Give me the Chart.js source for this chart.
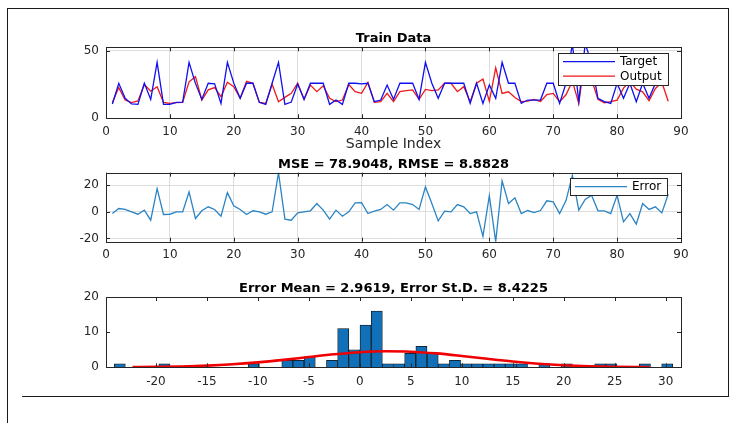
<!DOCTYPE html>
<html>
<head>
<meta charset="utf-8">
<script src="https://cdn.jsdelivr.net/npm/chart.js@4.4.1/dist/chart.umd.min.js"></script>
<style>
  body { margin: 0; background: #fff; }
  #wrap { position: relative; width: 738px; height: 423px; overflow: hidden; background: #fff; }
  canvas { position: absolute; left: 0; }
  .ln { position: absolute; background: #1a1a1a; }
</style>
</head>
<body>
<div id="wrap">
  <div class="ln" style="left:7px;top:8px;width:1px;height:415px"></div>
  <div class="ln" style="left:7px;top:8px;width:722px;height:1px"></div>
  <div class="ln" style="left:728px;top:8px;width:1px;height:389px"></div>
  <div class="ln" style="left:22px;top:396px;width:707px;height:1px"></div>
  <canvas id="trainChart" width="738" height="130" style="top:25px"></canvas>
  <canvas id="errChart" width="738" height="110" style="top:155px"></canvas>
  <canvas id="histChart" width="738" height="115" style="top:278px"></canvas>
</div>
<script>
// tick labels
const sampleTicks = [0, 10, 20, 30, 40, 50, 60, 70, 80, 90]
const trainYTicks = [0, 50]
const errYTicks = [-20, 0, 20]
const histXTicks = [-20, -15, -10, -5, 0, 5, 10, 15, 20, 25, 30]
const histYTicks = [0, 10, 20]

// sample 1..88
const target = [10.6, 25.9, 14.8, 10.6, 10.3, 25.9, 14, 41.4, 10.3, 10.3,
    11.8, 12, 41.4, 25.8, 14, 25.9, 25.5, 11, 41.4, 26,
    14.8, 25.9, 25.9, 11.8, 10.3, 25.9, 41.4, 10.3, 12, 25.4,
    14, 25.9, 25.9, 25.9, 10.3, 13.5, 10.3, 25.9, 25.9, 25.4,
    25.9, 12.3, 13.5, 24.6, 14, 25.9, 25.9, 25.9, 14, 41.4,
    25.9, 14.8, 25.9, 25.9, 25.9, 25.9, 11, 25.9, 11, 24.6,
    14.8, 41.4, 25.9, 25.9, 11, 13.5, 13.5, 13.5, 25.9, 25.9,
    11, 25.9, 55, 12.3, 55, 41.4, 14.8, 12.3, 11, 25.9,
    14.8, 25.9, 12.3, 25.9, 14.8, 25.9, 25.9, 25.9]

const output = [11.6, 22.7, 13.5, 11.6, 12.8, 25, 20, 23.4, 11.8, 11,
    11.6, 11.8, 27, 30.8, 13.5, 21, 22.7, 16, 26.6, 23.4,
    14.8, 27.3, 25.9, 11.8, 11, 25.2, 12.3, 15.5, 18.5, 25.9,
    14, 24.6, 19.7, 24.1, 14.8, 12.3, 13.5, 25, 19.7, 18.5,
    26.6, 11.8, 12.3, 18.5, 12.3, 19.7, 20.4, 21, 14, 21.4,
    20.4, 21, 25.9, 25.9, 19.7, 23.4, 12.3, 25.9, 29, 12.6,
    37.3, 18.4, 19.6, 15.4, 12.3, 12.7, 14, 12.5, 17.6, 18.4,
    12.3, 17.4, 27.5, 11, 45.7, 28.9, 14, 11.5, 12.3, 13.4,
    22.3, 27.2, 21.6, 19.6, 13, 22.1, 26.7, 12.6]

const errors = [-1.3, 2.5, 1.8, 0, -1.8, 1.3, -6.3, 17.5, -2, -1.8,
    0, 0, 15, -5, 0.8, 3.8, 1.8, -3.3, 14.5, 4.5,
    1.8, -2, 0.8, 0, -1.8, 0, 29.5, -5.5, -6.3, -0.8,
    0, 0.8, 6.3, 1.3, -5.5, 1.3, -3.3, 0, 6.8, 7,
    -1.3, 0.5, 1.8, 5.5, 1.3, 6.8, 6.8, 5.5, 1.8, 18.8,
    6.3, -6.8, 0.5, 0, 5.5, 3.8, -1.3, 0, -18.5, 12.2,
    -22.5, 23.3, 6.3, 10.6, -1.3, 1, -0.6, 1, 8.3, 7.5,
    -1.3, 8.5, 27.5, 1.3, 9.3, 12.5, 0.8, 0.8, -1.3, 12.5,
    -7.5, -1.3, -9.3, 6.3, 1.8, 3.8, -0.8, 13.3]

// histogram of errors
const binCenters = [-23.55, -22.46, -21.36, -20.26, -19.17, -18.07, -16.98, -15.88, -14.78, -13.69,
    -12.59, -11.5, -10.4, -9.3, -8.21, -7.11, -6.02, -4.92, -3.82, -2.73,
    -1.63, -0.54, 0.56, 1.66, 2.75, 3.85, 4.94, 6.04, 7.14, 8.23,
    9.33, 10.42, 11.52, 12.62, 13.71, 14.81, 15.9, 17, 18.1, 19.19,
    20.29, 21.38, 22.48, 23.58, 24.67, 25.77, 26.86, 27.96, 29.06, 30.15]
const binCounts = [1, 0, 0, 0, 1, 0, 0, 0, 0, 0,
    0, 0, 1, 0, 0, 2, 2, 3, 0, 2,
    11, 5, 12, 16, 1, 1, 4, 6, 4, 1,
    2, 1, 1, 1, 1, 1, 1, 0, 1, 0,
    1, 0, 0, 1, 1, 0, 0, 1, 0, 1]

// fitted normal curve
const fitX = [-22.3, -20, -17.5, -15, -12.5, -10, -7.5, -5, -2.5, 0, 2.5, 5, 7.5, 10, 12.5, 15, 17.5, 20, 22.5, 25, 28.4]
const fitY = [0.05, 0.11, 0.24, 0.47, 0.85, 1.4, 2.11, 2.92, 3.7, 4.3, 4.56, 4.44, 3.95, 3.22, 2.41, 1.65, 1.03, 0.59, 0.31, 0.15, 0.05]


Chart.defaults.font.family = "'DejaVu Sans', sans-serif"
Chart.defaults.color = '#262626'

const axisColor = '#262626'
const gridColor = '#dedede'
const tickFont = { size: 12 }

const fixedTicks = (list) => (scale) => {
    scale.ticks = list.map(v => ({ value: v }))
}

const bySample = (arr) => arr.map((v, i) => ({ x: i + 1, y: v }))

// MATLAB-ish box, inward ticks, title and legend
const matlabAxes = {
    id: 'matlabAxes',
    afterDraw(chart, args, opts) {
        const { ctx, chartArea: a } = chart
        const x = chart.scales.x
        const y = chart.scales.y
        ctx.save()
        ctx.strokeStyle = axisColor
        ctx.lineWidth = 1
        ctx.beginPath()
        x.ticks.forEach(t => {
            const px = Math.round(x.getPixelForValue(t.value)) + 0.5
            ctx.moveTo(px, a.bottom); ctx.lineTo(px, a.bottom - 4)
            ctx.moveTo(px, a.top); ctx.lineTo(px, a.top + 4)
        })
        y.ticks.forEach(t => {
            const py = Math.round(y.getPixelForValue(t.value)) + 0.5
            ctx.moveTo(a.left, py); ctx.lineTo(a.left + 4, py)
            ctx.moveTo(a.right, py); ctx.lineTo(a.right - 4, py)
        })
        ctx.stroke()
        ctx.strokeRect(Math.round(a.left) + 0.5, Math.round(a.top) + 0.5,
            Math.round(a.right) - Math.round(a.left), Math.round(a.bottom) - Math.round(a.top))

        ctx.font = "bold 13px 'DejaVu Sans'"
        ctx.fillStyle = '#000'
        ctx.textAlign = 'center'
        ctx.textBaseline = 'alphabetic'
        ctx.fillText(opts.title, (a.left + a.right) / 2, a.top - 5)

        if (opts.legend) {
            const L = opts.legend
            const sets = chart.data.datasets
            ctx.font = "12px 'DejaVu Sans'"
            let tw = 0
            sets.forEach(ds => { tw = Math.max(tw, ctx.measureText(ds.label).width) })
            const w = Math.round(62 + tw + 6)
            const h = Math.round(sets.length * 14.4 + 3)
            const bx = Math.round(a.right - L.right - w)
            const by = Math.round(a.top + L.top)
            ctx.fillStyle = '#fff'
            ctx.fillRect(bx, by, w, h)
            ctx.strokeStyle = axisColor
            ctx.lineWidth = 1
            ctx.strokeRect(bx + 0.5, by + 0.5, w, h)
            sets.forEach((ds, i) => {
                const ry = by + 1.5 + 14.4 * (i + 0.5)
                ctx.strokeStyle = ds.borderColor
                ctx.lineWidth = ds.borderWidth
                ctx.beginPath()
                ctx.moveTo(bx + 5, ry); ctx.lineTo(bx + 57, ry)
                ctx.stroke()
                ctx.fillStyle = '#000'
                ctx.textAlign = 'left'
                ctx.textBaseline = 'middle'
                ctx.fillText(ds.label, bx + 62, ry + 0.5)
            })
        }
        ctx.restore()
    }
}


// Train data
new Chart(document.getElementById('trainChart'), {
    type: 'line',
    data: {
        datasets: [{
            label: 'Target',
            data: bySample(target),
            borderColor: '#1010f0',
            borderWidth: 1.3,
            pointRadius: 0,
            tension: 0
        }, {
            label: 'Output',
            data: bySample(output),
            borderColor: '#f01818',
            borderWidth: 1.3,
            pointRadius: 0,
            tension: 0
        }]
    },
    plugins: [matlabAxes],
    options: {
        responsive: false,
        animation: false,
        layout: { padding: { top: 22.3, right: 57, left: 0, bottom: 0 } },
        plugins: {
            legend: { display: false },
            tooltip: { enabled: false },
            matlabAxes: { title: 'Train Data', legend: { right: 13, top: 6 } }
        },
        scales: {
            x: {
                type: 'linear', min: 0, max: 90,
                afterBuildTicks: fixedTicks(sampleTicks),
                afterFit: (s) => { s.height = 36.7 },
                grid: { color: gridColor, drawTicks: false },
                border: { display: false },
                ticks: { font: tickFont, padding: 6, maxRotation: 0 },
                title: { display: true, text: 'Sample Index', font: { size: 14 }, color: '#262626', padding: { top: 0, bottom: 2 } }
            },
            y: {
                min: 0, max: 52.5,
                afterBuildTicks: fixedTicks(trainYTicks),
                afterFit: (s) => { s.width = 106 },
                grid: { color: gridColor, drawTicks: false },
                border: { display: false },
                ticks: { font: tickFont, padding: 7 }
            }
        }
    }
})


// Error plot
new Chart(document.getElementById('errChart'), {
    type: 'line',
    data: {
        datasets: [{
            label: 'Error',
            data: bySample(errors),
            borderColor: '#2a84c4',
            borderWidth: 1.3,
            pointRadius: 0,
            tension: 0
        }]
    },
    plugins: [matlabAxes],
    options: {
        responsive: false,
        animation: false,
        layout: { padding: { top: 17.7, right: 57, left: 0, bottom: 0 } },
        plugins: {
            legend: { display: false },
            tooltip: { enabled: false },
            matlabAxes: { title: 'MSE = 78.9048, RMSE = 8.8828', legend: { right: 14, top: 5.3 } }
        },
        scales: {
            x: {
                type: 'linear', min: 0, max: 90,
                afterBuildTicks: fixedTicks(sampleTicks),
                afterFit: (s) => { s.height = 23.3 },
                grid: { color: gridColor, drawTicks: false },
                border: { display: false },
                ticks: { font: tickFont, padding: 6, maxRotation: 0 }
            },
            y: {
                min: -22.5, max: 29.5,
                afterBuildTicks: fixedTicks(errYTicks),
                afterFit: (s) => { s.width = 106 },
                grid: { color: gridColor, drawTicks: false },
                border: { display: false },
                ticks: { font: tickFont, padding: 7 }
            }
        }
    }
})


// Histogram + normal fit
new Chart(document.getElementById('histChart'), {
    type: 'bar',
    data: {
        datasets: [{
            type: 'line',
            label: 'fit',
            data: fitX.map((v, i) => ({ x: v, y: fitY[i] })),
            borderColor: '#f00000',
            borderWidth: 2.6,
            pointRadius: 0,
            cubicInterpolationMode: 'monotone',
            order: 0
        }, {
            label: 'counts',
            data: binCenters.map((v, i) => ({ x: v, y: binCounts[i] })),
            backgroundColor: '#1170b8',
            borderColor: '#111',
            borderWidth: 0.8,
            barPercentage: 1,
            categoryPercentage: 1,
            order: 1
        }]
    },
    plugins: [matlabAxes],
    options: {
        responsive: false,
        animation: false,
        layout: { padding: { top: 19, right: 57, left: 0, bottom: 0 } },
        plugins: {
            legend: { display: false },
            tooltip: { enabled: false },
            matlabAxes: { title: 'Error Mean = 2.9619, Error St.D. = 8.4225' }
        },
        scales: {
            x: {
                type: 'linear', min: -24.9, max: 31.5,
                offset: false,
                afterBuildTicks: fixedTicks(histXTicks),
                afterFit: (s) => { s.height = 25.7 },
                grid: { display: false, drawTicks: false, offset: false },
                border: { display: false },
                ticks: { font: tickFont, padding: 7, maxRotation: 0 }
            },
            y: {
                min: 0, max: 20,
                afterBuildTicks: fixedTicks(histYTicks),
                afterFit: (s) => { s.width = 106 },
                grid: { display: false, drawTicks: false },
                border: { display: false },
                ticks: { font: tickFont, padding: 7 }
            }
        }
    }
})
</script>
</body>
</html>
